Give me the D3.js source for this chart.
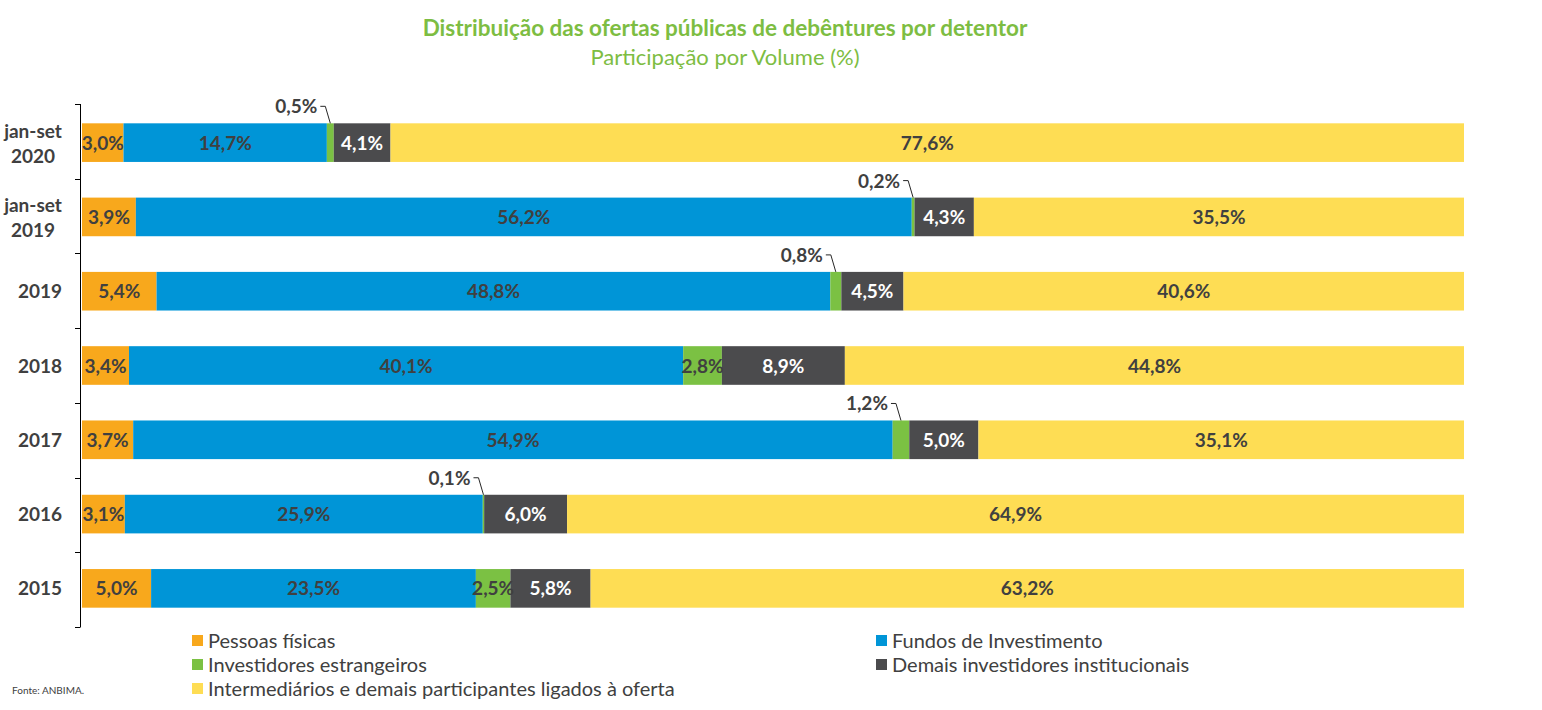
<!DOCTYPE html>
<html><head><meta charset="utf-8">
<script src="https://cdn.jsdelivr.net/npm/d3@7"></script>
<style>body{margin:0;background:#fff}svg{display:block;font-family:Lato,"Open Sans",sans-serif}</style>
</head><body><svg id="c" width="1542" height="710"></svg>
<script>
const categories = ["jan-set 2020","jan-set 2019","2019","2018","2017","2016","2015"];
const seriesNames = ["Pessoas físicas","Fundos de Investimento","Investidores estrangeiros","Demais investidores institucionais","Intermediários e demais participantes ligados à oferta"];
const pessoasFisicas = [3.0,3.9,5.4,3.4,3.7,3.1,5.0];
const fundosInvestimento = [14.7,56.2,48.8,40.1,54.9,25.9,23.5];
const investidoresEstrangeiros = [0.5,0.2,0.8,2.8,1.2,0.1,2.5];
const demaisInstitucionais = [4.1,4.3,4.5,8.9,5.0,6.0,5.8];
const intermediarios = [77.6,35.5,40.6,44.8,35.1,64.9,63.2];
const colors = ["#F8A81C","#0095D7","#7BC143","#4B4B4D","#FEDD54"];
const labelColors = ["#404040","#404040","#404040","#ffffff","#404040"];

const svg = d3.select("#c");
const rows = categories.map((c,i)=>({cat:c, s0:pessoasFisicas[i], s1:fundosInvestimento[i], s2:investidoresEstrangeiros[i], s3:demaisInstitucionais[i], s4:intermediarios[i]}));
const keys = ["s0","s1","s2","s3","s4"];
const stacked = d3.stack().keys(keys).offset(d3.stackOffsetExpand)(rows);

const x = d3.scaleLinear().domain([0,1]).range([82,1464]);
const y = d3.scaleBand().domain(categories).range([104,627]).paddingInner(0.48).paddingOuter(0.26);
const fmt = v => d3.format(".1f")(v).replace(".",",")+"%";

// title
svg.append("text").attr("x",725).attr("y",36).attr("text-anchor","middle").attr("fill","#7DBD42")
  .attr("font-size",22.5).attr("font-weight","bold").text("Distribuição das ofertas públicas de debêntures por detentor");
svg.append("text").attr("x",725).attr("y",65).attr("text-anchor","middle").attr("fill","#7DBD42")
  .attr("font-size",22).text("Participação por Volume (%)");

// bars
stacked.forEach((layer,k)=>{
  const g = svg.append("g");
  g.selectAll("rect").data(layer).join("rect")
    .attr("x",d=>x(d[0])).attr("width",d=>x(d[1])-x(d[0]))
    .attr("y",d=>y(d.data.cat)).attr("height",y.bandwidth())
    .attr("fill",colors[k]);
});

// labels
stacked.forEach((layer,k)=>{
  layer.forEach(d=>{
    const v = d.data[keys[k]];
    const cx = (x(d[0])+x(d[1]))/2;
    const top = y(d.data.cat);
    if (v < 2) {
      svg.append("path").attr("d",`M${cx},${top} L${cx-5},${top-17} L${cx-10},${top-17}`)
        .attr("fill","none").attr("stroke","#262626").attr("stroke-width",1);
      svg.append("text").attr("x",cx-13).attr("y",top-10).attr("text-anchor","end")
        .attr("font-size",19).attr("font-weight","bold").attr("fill","#404040").text(fmt(v));
    } else {
      svg.append("text").attr("x",cx).attr("y",top+y.bandwidth()/2+7).attr("text-anchor","middle")
        .attr("font-size",19).attr("font-weight","bold").attr("fill",labelColors[k]).text(fmt(v));
    }
  });
});

// axis
const y0 = y.range()[0], y1 = y.range()[1];
svg.append("line").attr("x1",80.5).attr("x2",80.5).attr("y1",y0).attr("y2",y1).attr("stroke","#000").attr("stroke-width",1);
d3.range(categories.length+1).forEach(i=>{
  const yy = Math.round(y0 + i*(y1-y0)/categories.length)+0.5;
  svg.append("line").attr("x1",75).attr("x2",80.5).attr("y1",yy).attr("y2",yy).attr("stroke","#000");
});
categories.forEach(c=>{
  const cy = y(c)+y.bandwidth()/2;
  const parts = c.split(" ");
  const t = svg.append("text").attr("text-anchor","middle").attr("font-size",19).attr("font-weight","bold").attr("fill","#404040");
  if (parts.length===2) {
    t.append("tspan").attr("x",33).attr("y",cy-5).text(parts[0]);
    t.append("tspan").attr("x",33).attr("y",cy+20).text(parts[1]);
  } else {
    t.attr("x",40).attr("y",cy+7).text(c);
  }
});

// legend
const legPos = [[192,641],[876,641],[192,665],[876,665],[192,689]];
seriesNames.forEach((name,k)=>{
  const [lx,ly] = legPos[k];
  svg.append("rect").attr("x",lx).attr("y",ly-6).attr("width",11).attr("height",11).attr("fill",colors[k]);
  svg.append("text").attr("x",lx+16).attr("y",ly+7).attr("font-size",20).attr("fill","#404040").text(name);
});
svg.append("text").attr("x",12).attr("y",694).attr("font-size",10).attr("fill","#404040").text("Fonte: ANBIMA.");
</script></body></html>
